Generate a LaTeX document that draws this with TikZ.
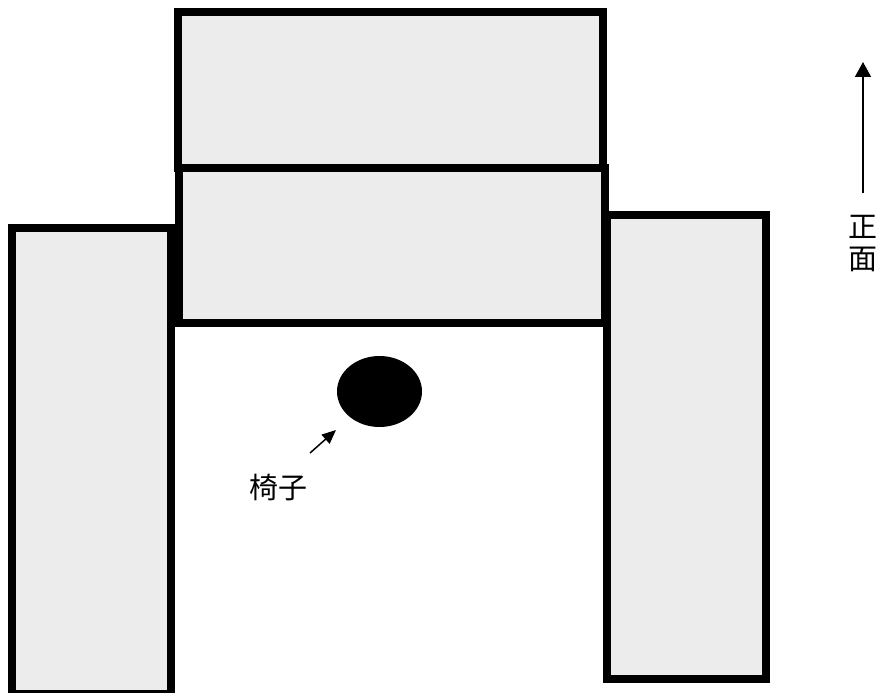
\documentclass[tikz,border=0pt]{standalone}
\usepackage{fontspec}
\newfontfamily\cjk{Noto Sans CJK JP}
\usetikzlibrary{arrows.meta}
\definecolor{boxgray}{HTML}{ECECEC}
\tikzset{
  furniture/.style={draw=black, fill=boxgray, line width=8pt},
  chair/.style={fill=black, draw=none},
  pointer/.style={line width=1.5pt, -{Triangle[length=15pt,width=16pt]}},
  smallpointer/.style={line width=1.5pt, -{Triangle[length=14pt,width=12pt]}},
  label/.style={font=\cjk\fontsize{29pt}{32pt}\selectfont, inner sep=0pt, align=center}
}
\begin{document}
\begin{tikzpicture}[x=1pt,y=-1pt]
\useasboundingbox (0,0) rectangle (879,693);
% furniture
\draw[furniture] (178,12.5) rectangle (603,168);
\draw[furniture] (179,168) rectangle (604.5,323);
\draw[furniture] (12,228) rectangle (171,694);
\draw[furniture] (607,215) rectangle (766,679);
% chair
\fill[chair] (379.5,391.5) ellipse [x radius=42.5, y radius=35.5];
\node[label] (chairlabel) at (278.5,488) {椅子};
\coordinate (chairfrom) at (310,453);
\coordinate (chairto) at (336,430);
\draw[smallpointer] (chairfrom) -- (chairto);
% front direction
\node[label] (front) at (863,244) {正\\面};
\coordinate (frontfrom) at (863,193);
\coordinate (frontto) at (863,62);
\draw[pointer] (frontfrom) -- (frontto);
\end{tikzpicture}
\end{document}
